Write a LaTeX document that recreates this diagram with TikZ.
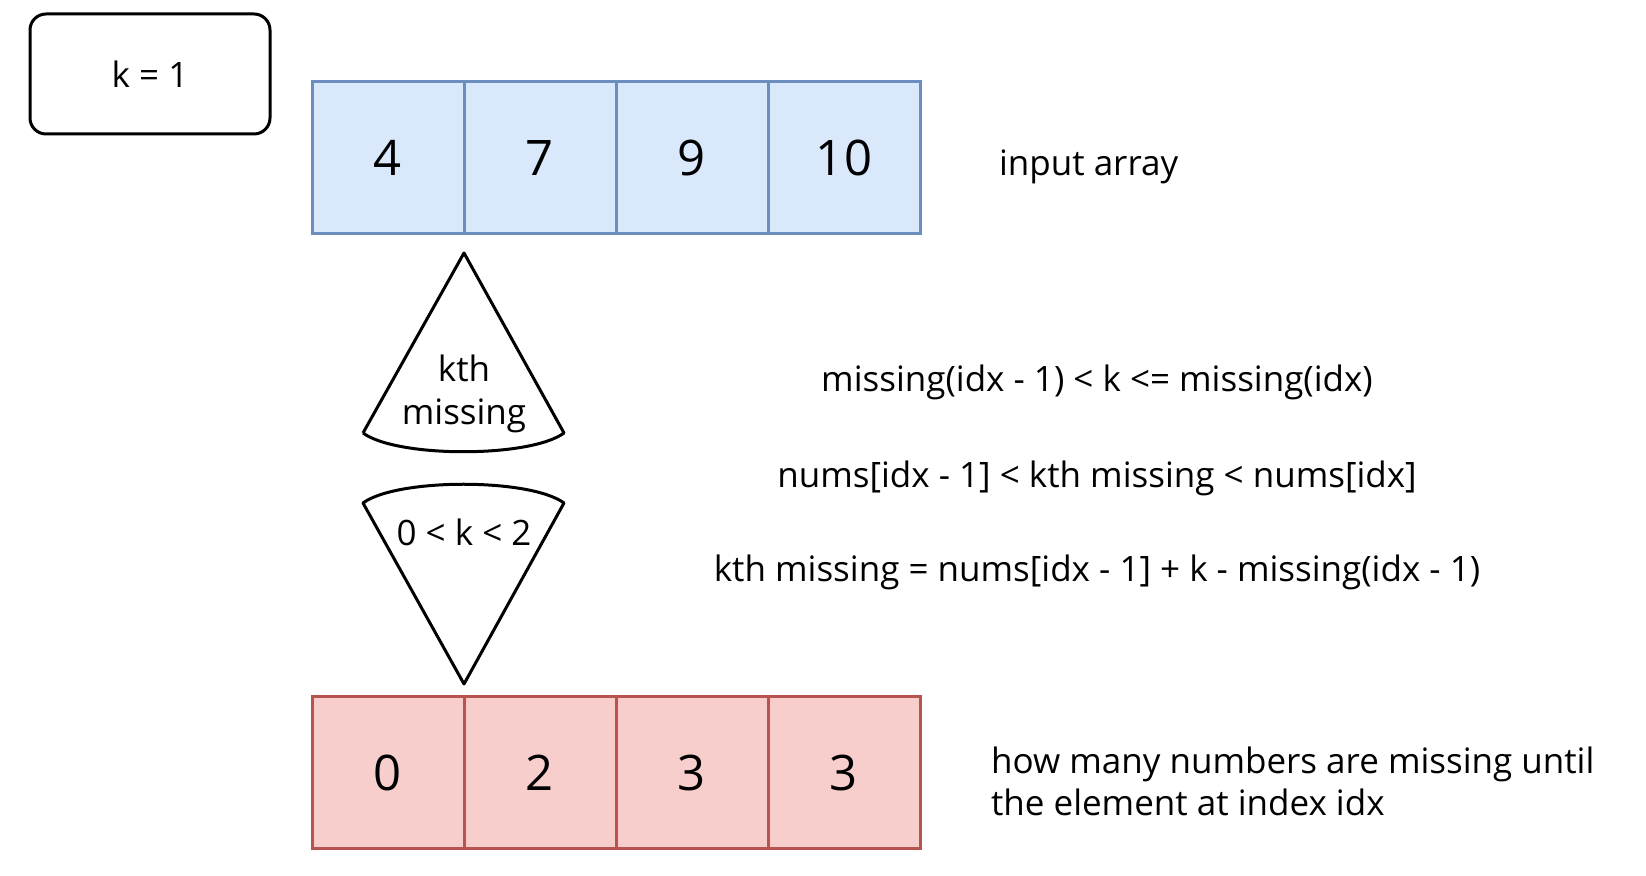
\documentclass[tikz,border=0pt]{standalone}
\usepackage{fontspec}
\setmainfont{Open Sans}
\usetikzlibrary{positioning}

\definecolor{inblue}{HTML}{DAE8FC}
\definecolor{inbluedraw}{HTML}{6C8EBF}
\definecolor{misred}{HTML}{F8CECC}
\definecolor{misreddraw}{HTML}{B85450}

\begin{document}
\begin{tikzpicture}[
  x=0.5pt, y=-0.5pt,
  node distance=0pt,
  cell/.style={draw, line width=1.5pt, minimum size=76pt, outer sep=0pt,
               inner sep=0pt, font=\fontsize{24.5}{28}\selectfont},
  incell/.style={cell, fill=inblue, draw=inbluedraw},
  miscell/.style={cell, fill=misred, draw=misreddraw},
  shp/.style={draw, line width=1.5pt, line join=round},
  lbl/.style={font=\fontsize{17.5}{21.5}\selectfont, align=center},
  note/.style={font=\fontsize{17.5}{21}\selectfont, align=left, anchor=west}
]
\useasboundingbox (0,0) rectangle (1646,876);

% k value
\node[draw, line width=1.5pt, rounded corners=8pt, minimum width=120pt,
      minimum height=60pt, font=\fontsize{17.5}{20}\selectfont] (kbox) at (150,74) {k = 1};

% input array
\node[incell] (in0) at (388,158) {4};
\node[incell, right=of in0] (in1) {7};
\node[incell, right=of in1] (in2) {9};
\node[incell, right=of in2] (in3) {10};
\node[note] (inlbl) at (992,167) {input array};

% missing counts
\node[miscell] (ms0) at (388,773) {0};
\node[miscell, right=of ms0] (ms1) {2};
\node[miscell, right=of ms1] (ms2) {3};
\node[miscell, right=of ms2] (ms3) {3};
\node[note] (mslbl) at (984,781) {how many numbers are missing until\\the element at index idx};

% the two cones
\draw[shp] (363,433) -- (464,253) -- (564,433)
  .. controls (530,458) and (397,458) .. (363,433);
\draw[shp] (363,503) .. controls (397,478) and (530,478) .. (564,503)
  -- (464,684) -- cycle;
\node[lbl] (kth) at (464,394) {kth\\missing};
\node[lbl] (range) at (464,532) {0 < k < 2};

% formulas
\node[lbl] (f1) at (1097,382) {missing(idx - 1) < k <= missing(idx)};
\node[lbl] (f2) at (1097,478) {nums[idx - 1] < kth missing < nums[idx]};
\node[lbl] (f3) at (1097,572) {kth missing = nums[idx - 1] + k - missing(idx - 1)};
\end{tikzpicture}
\end{document}
